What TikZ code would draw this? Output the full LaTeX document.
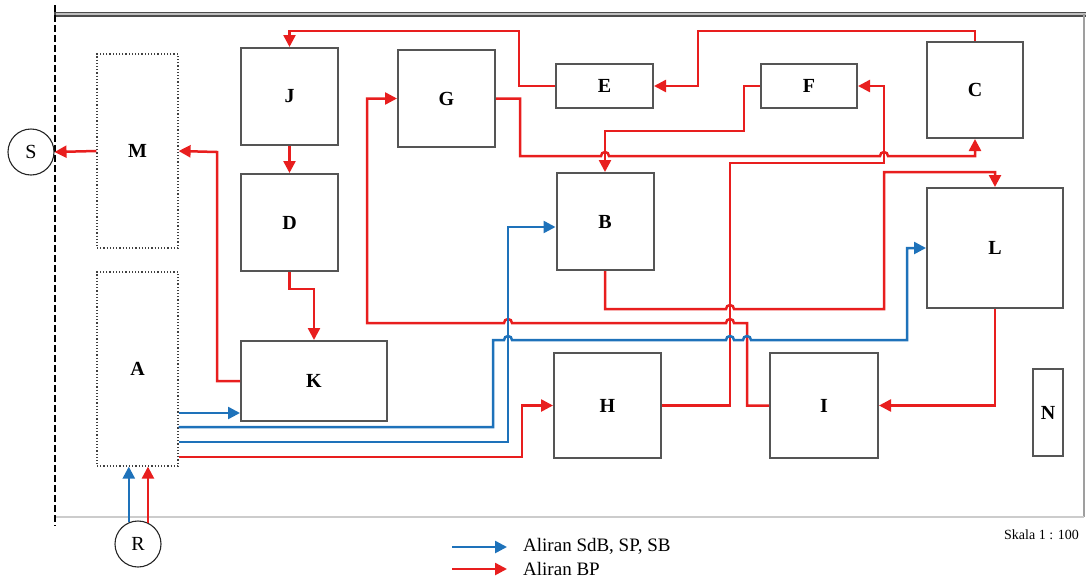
\documentclass[tikz,border=0pt]{standalone}
\usepackage{fontspec}
\setmainfont{Liberation Serif}
\usetikzlibrary{arrows.meta}
\definecolor{fr}{RGB}{232,30,30}
\definecolor{fb}{RGB}{30,114,186}
\definecolor{bx}{RGB}{85,85,85}
\begin{document}
\begin{tikzpicture}[x=1pt,y=-1pt,
  box/.style={draw=bx, line width=2pt, fill=white, inner sep=0pt, font=\fontsize{20}{24}\selectfont\bfseries},
  dbox/.style={draw=black!75, dotted, line width=1.2pt, fill=white, inner sep=0pt, font=\fontsize{20}{24}\selectfont\bfseries},
  circ/.style={circle, draw=black!85, line width=1.1pt, minimum size=46pt, inner sep=0pt, fill=white, font=\fontsize{20}{24}\selectfont},
  rl/.style={draw=fr, line width=2.5pt},
  bl/.style={draw=fb, line width=2.5pt},
  arr/.style={-{Triangle[length=12pt,width=12pt]}},
  lbl/.style={anchor=west, inner sep=0pt, font=\fontsize{19}{22}\selectfont},
]
\useasboundingbox (0,0) rectangle (1086,579);
% frame
\draw[line width=5pt, black!70] (54,14) -- (1086,14);
\draw[line width=2.4pt, gray!50] (56,14) -- (1086,14);
\draw[line width=2pt, gray!75] (1084,14) -- (1084,517);
\draw[line width=1.4pt, gray!40] (55,517) -- (1084,517);
\draw[line width=1.4pt, black, dash pattern=on 7pt off 3pt] (55,5) -- (55,526);

% nodes
\node[dbox, minimum width=81pt, minimum height=194pt] (M) at (137.5,151) {M};
\node[dbox, minimum width=81pt, minimum height=194pt] (A) at (137.5,369) {A};
\node[circ] (S) at (31,152) {S};
\node[circ] (R) at (138,544) {R};
\node[box, minimum width=97pt, minimum height=97pt] (J) at (289.5,96.5) {J};
\node[box, minimum width=97pt, minimum height=97pt] (D) at (289.5,222.5) {D};
\node[box, minimum width=146pt, minimum height=80pt] (K) at (314,381) {K};
\node[box, minimum width=97pt, minimum height=97pt] (G) at (446.5,98.5) {G};
\node[box, minimum width=97pt, minimum height=44pt] (E) at (604.5,86) {E};
\node[box, minimum width=96pt, minimum height=44pt] (F) at (809,86) {F};
\node[box, minimum width=96pt, minimum height=96pt] (C) at (975,90) {C};
\node[box, minimum width=97pt, minimum height=97pt] (B) at (605,221.5) {B};
\node[box, minimum width=136pt, minimum height=120pt] (L) at (995,248) {L};
\node[box, minimum width=107pt, minimum height=105pt] (H) at (607.5,405.5) {H};
\node[box, minimum width=108pt, minimum height=105pt] (I) at (824,405.5) {I};
\node[box, minimum width=30pt, minimum height=87pt] (N) at (1048,412.5) {N};

% red flows
\draw[rl,arr] (C.north) |- (698,31) |- (E.east);
\draw[rl,arr] (E.west) -| (519,31) -| (J.north);
\draw[rl,arr] (J.south) -- (D.north);
\draw[rl,arr] (D.south) |- (314,289) -- (K.north);
\draw[rl,arr] (K.west) -| (217,152) -- (M.east);
\draw[rl,arr] (M.west) -- (S.east);
\draw[rl,arr] (G.east) -| (520,156) -- (601,156) arc[start angle=180,end angle=360,radius=4]
  -- (880,156) arc[start angle=180,end angle=360,radius=4] -| (C.south);
\draw[rl,arr] (F.west) -| (744,131) -| (B.north);
\draw[rl,arr] (H.east) -| (730,163) -- (884,163) |- (F.east);
\draw[rl,arr] (B.south) |- (726,309) arc[start angle=180,end angle=360,radius=4]
  -- (884,309) |- (995,172) -- (L.north);
\draw[rl,arr] (I.west) -| (747,323) -- (734,323) arc[start angle=0,end angle=-180,radius=4]
  -- (512,323) arc[start angle=0,end angle=-180,radius=4] -- (367,323) |- (G.west);
\draw[rl,arr] (L.south) |- (I.east);
\draw[rl,arr] ([yshift=-88pt]A.east) -| (522,405.5) -- (H.west);

% blue flows
\draw[bl,arr] ([yshift=-44pt]A.east) -- ([yshift=-32pt]K.west);
\draw[bl,arr] ([yshift=-58pt]A.east) -| (493,340) -- (504,340) arc[start angle=180,end angle=360,radius=4]
  -- (726,340) arc[start angle=180,end angle=360,radius=4]
  -- (743,340) arc[start angle=180,end angle=360,radius=4] -- (907,340) |- (L.west);
\draw[bl,arr] ([yshift=-73pt]A.east) -| (508,227) -- ([yshift=-5.5pt]B.west);

% from R
\draw[bl,arr] (R.113) -- (R.113 |- A.south);
\draw[rl,arr] (R.65) -- (R.65 |- A.south);

% legend
\node[lbl] (lg1) at (523,546) {Aliran SdB, SP, SB};
\node[lbl] (lg2) at (523,569) {Aliran BP};
\coordinate (lb1) at (452,547);
\coordinate (lb2) at (452,569);
\draw[bl,arr] (lb1) -- ([xshift=-16pt,yshift=-1pt]lg1.west);
\draw[rl,arr] (lb2) -- ([xshift=-16pt]lg2.west);
\node[anchor=east, inner sep=0pt, font=\fontsize{14}{16}\selectfont] (sk) at (1079,535) {Skala 1 : 100};
\end{tikzpicture}
\end{document}
